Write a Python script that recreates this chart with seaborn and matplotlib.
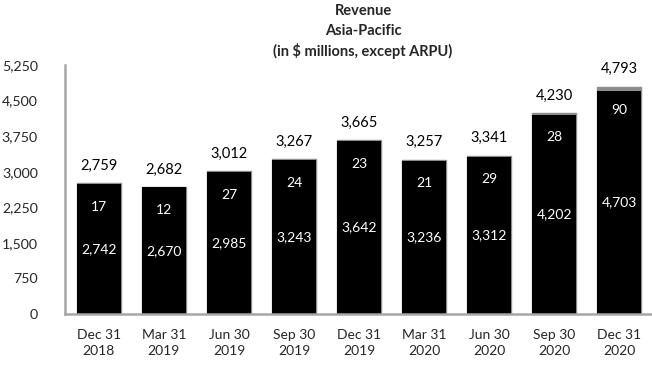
import matplotlib
matplotlib.use("Agg")
import matplotlib.pyplot as plt
import seaborn as sns
import pandas as pd
import numpy as np

quarters = ["Dec 31\n2018", "Mar 31\n2019", "Jun 30\n2019", "Sep 30\n2019", "Dec 31\n2019",
            "Mar 31\n2020", "Jun 30\n2020", "Sep 30\n2020", "Dec 31\n2020"]
main_rev = [2742, 2670, 2985, 3243, 3642, 3236, 3312, 4202, 4703]
other_rev = [17, 12, 27, 24, 23, 21, 29, 28, 90]
yticks = [0, 750, 1500, 2250, 3000, 3750, 4500, 5250]

total = [m + o for m, o in zip(main_rev, other_rev)]
df = pd.DataFrame({"quarter": quarters, "main": main_rev, "other": other_rev, "total": total})

sns.set_theme(style="white")
plt.rcParams["font.family"] = ["Lato", "DejaVu Sans"]

fig = plt.figure(figsize=(6.52, 3.66), dpi=100)
ax = fig.add_axes([65 / 652, 1 - 314 / 366, 587 / 652, 249 / 366])

sns.barplot(data=df, x="quarter", y="total", color="#8c8c8c", saturation=1,
            width=0.676, ax=ax, edgecolor="#8c8c8c", linewidth=1.0)
sns.barplot(data=df, x="quarter", y="main", color="black", saturation=1,
            width=0.676, ax=ax, linewidth=0)

for i, (m, o, t) in enumerate(zip(main_rev, other_rev, total)):
    ax.text(i, m / 2, f"{m:,}", ha="center", va="center", color="white", fontsize=10)
    ax.annotate(f"{o:,}", (i, t), xytext=(0, -17), textcoords="offset points",
                ha="center", va="center", color="white", fontsize=10)
    ax.annotate(f"{t:,}", (i, t), xytext=(0, 12.5), textcoords="offset points",
                ha="center", va="center", color="black", fontsize=10.5)

ax.set_ylim(0, 5250)
ax.set_xlim(-0.52, 8.5)
ax.set_yticks(yticks)
ax.set_yticklabels([f"{v:,}" for v in yticks], fontsize=10.2)
ax.tick_params(axis="y", length=0, pad=19.5)
ax.tick_params(axis="x", length=0, pad=11, labelsize=10)
for lbl in ax.get_xticklabels():
    lbl.set_linespacing(1.35)
ax.set_xlabel("")
ax.set_ylabel("")
for s in ["top", "right"]:
    ax.spines[s].set_visible(False)
for s in ["left", "bottom"]:
    ax.spines[s].set_color("#a6a6a6")
    ax.spines[s].set_linewidth(1.8)

fig.text(363 / 652, 1 - 11 / 366, "Revenue", ha="center", va="center", fontsize=10.5, fontweight="bold")
fig.text(363 / 652, 1 - 31 / 366, "Asia-Pacific", ha="center", va="center", fontsize=10.5, fontweight="bold")
fig.text(363 / 652, 1 - 51 / 366, "(in $ millions, except ARPU)", ha="center", va="center",
         fontsize=10.5, fontweight="bold")

fig.savefig("out.png", dpi=100)
